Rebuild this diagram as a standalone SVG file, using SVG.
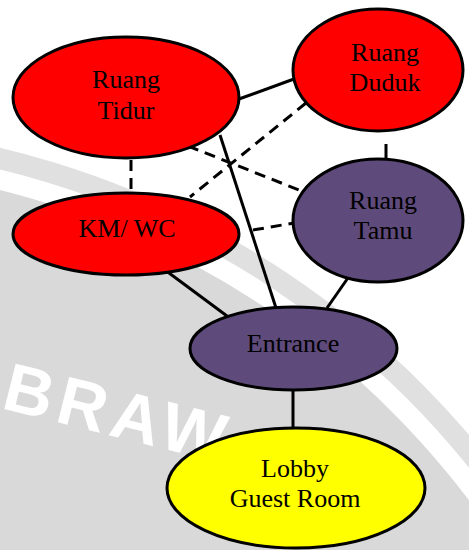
<svg xmlns="http://www.w3.org/2000/svg" width="469" height="550" viewBox="0 0 469 550">
  <style>
    .node { stroke: #000; stroke-width: 3; }
    .red { fill: #ff0000; }
    .purple { fill: #5f4a7c; }
    .yellow { fill: #ffff00; }
    .label { font-family: "Liberation Serif", "Times New Roman", serif; font-size: 26px; fill: #000; text-anchor: middle; }
    .solid { stroke: #000; stroke-width: 3; fill: none; }
    .dashed { stroke: #000; stroke-width: 3; fill: none; stroke-dasharray: 11 7; }
    .mark { font-family: "Liberation Sans", Arial, sans-serif; font-weight: bold; font-size: 68px; fill: #ffffff; letter-spacing: 6px; }
  </style>

  <!-- background: white sheet with a grey ring segment -->
  <g id="background">
    <rect x="0" y="0" width="469" height="550" fill="#ffffff"/>
    <circle cx="-204" cy="1008" r="884" fill="#e0e0e0"/>
    <circle cx="-204" cy="1008" r="863" fill="#ffffff"/>
    <circle cx="-204" cy="1008" r="843" fill="#d9d9d9"/>
    <text class="mark" x="0" y="408" transform="rotate(14 0 408)">BRAW</text>
  </g>

  <g id="connectors">
    <line class="solid" x1="239" y1="99" x2="294" y2="79"/>
    <line class="solid" x1="386" y1="144" x2="386" y2="160"/>
    <line class="dashed" x1="131" y1="160" x2="131" y2="194"/>
    <line class="dashed" x1="306" y1="103" x2="190" y2="197"/>
    <line class="dashed" x1="188" y1="146" x2="304" y2="192"/>
    <line class="dashed" x1="253" y1="230" x2="294" y2="223"/>
    <line class="solid" x1="220" y1="135" x2="276" y2="308"/>
    <line class="solid" x1="165" y1="270" x2="227" y2="316"/>
    <line class="solid" x1="350" y1="275" x2="327" y2="308"/>
    <line class="solid" x1="293" y1="390" x2="293" y2="428"/>
  </g>

  <g id="ruang-tidur">
    <ellipse class="node red" cx="126" cy="97.5" rx="113" ry="60.5"/>
    <text class="label" x="126" y="88">Ruang</text>
    <text class="label" x="126" y="119">Tidur</text>
  </g>

  <g id="ruang-duduk">
    <ellipse class="node red" cx="378" cy="70" rx="85" ry="61"/>
    <text class="label" x="385" y="61">Ruang</text>
    <text class="label" x="385" y="91">Duduk</text>
  </g>

  <g id="km-wc">
    <ellipse class="node red" cx="126" cy="234" rx="113" ry="41"/>
    <text class="label" x="127" y="237">KM/ WC</text>
  </g>

  <g id="ruang-tamu">
    <ellipse class="node purple" cx="378" cy="220.5" rx="85" ry="61.5"/>
    <text class="label" x="383" y="209">Ruang</text>
    <text class="label" x="383" y="239">Tamu</text>
  </g>

  <g id="entrance">
    <ellipse class="node purple" cx="293.5" cy="348.5" rx="103.5" ry="41.5"/>
    <text class="label" x="293" y="352">Entrance</text>
  </g>

  <g id="lobby">
    <ellipse class="node yellow" cx="296" cy="488" rx="129" ry="60"/>
    <text class="label" x="295" y="477">Lobby</text>
    <text class="label" x="295" y="507">Guest Room</text>
  </g>
</svg>
